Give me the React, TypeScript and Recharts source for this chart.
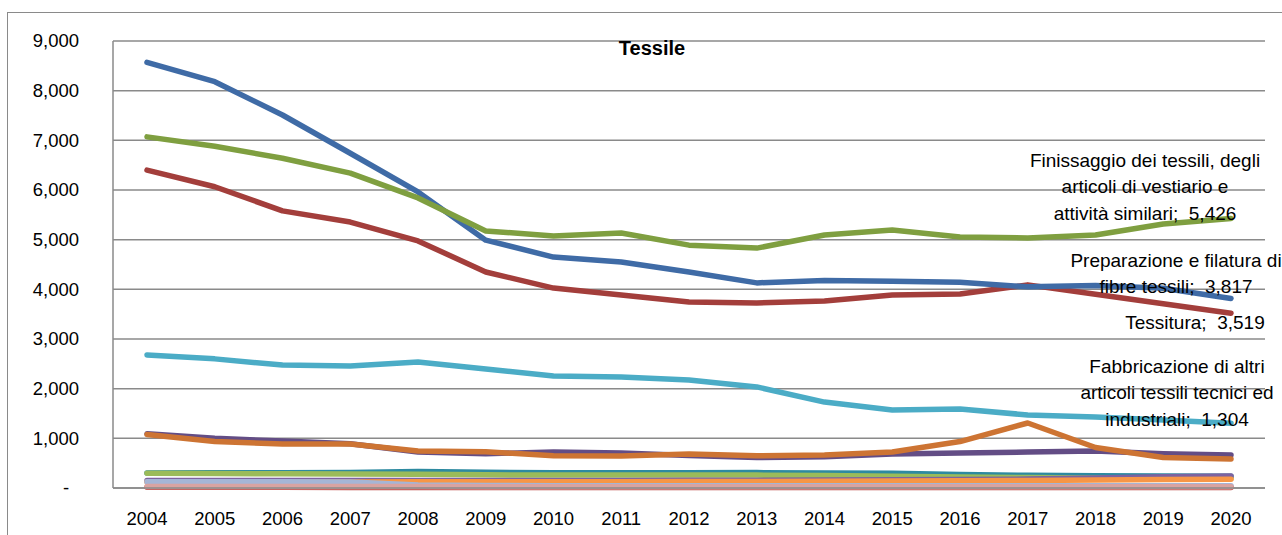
import React from "react";
import { LineChart, Line, XAxis, YAxis, CartesianGrid } from "recharts";

const YEARS = [
  "2004", "2005", "2006", "2007", "2008", "2009", "2010", "2011", "2012",
  "2013", "2014", "2015", "2016", "2017", "2018", "2019", "2020",
];

const Y_TICKS = [0, 1000, 2000, 3000, 4000, 5000, 6000, 7000, 8000, 9000];

// main series (labelled at the last year)
const PREPARAZIONE = [8570, 8180, 7510, 6740, 5960, 4990, 4650, 4550, 4350, 4130, 4180, 4165, 4145, 4050, 4075, 4020, 3817];
const TESSITURA = [6400, 6065, 5580, 5355, 4975, 4350, 4025, 3885, 3745, 3725, 3765, 3885, 3905, 4090, 3900, 3710, 3519];
const FINISSAGGIO = [7070, 6880, 6640, 6340, 5840, 5175, 5075, 5135, 4890, 4830, 5095, 5195, 5055, 5035, 5095, 5315, 5426];
const TECNICI = [2680, 2600, 2475, 2455, 2535, 2395, 2255, 2235, 2175, 2035, 1730, 1570, 1590, 1470, 1430, 1370, 1304];
const CONFEZIONAMENTO = [1090, 1000, 945, 890, 725, 690, 725, 705, 655, 615, 630, 685, 705, 725, 745, 690, 665];
const MAGLIA = [1075, 935, 885, 885, 745, 730, 650, 645, 685, 650, 665, 725, 935, 1309, 815, 615, 584];

// smaller activities near the bottom
const TAPPETI = [295, 290, 285, 280, 275, 265, 260, 262, 262, 260, 250, 235, 220, 210, 200, 195, 190];
const CORDE = [300, 305, 305, 310, 330, 315, 305, 308, 308, 310, 300, 295, 270, 255, 245, 240, 235];
const NON_TESSUTI = [150, 150, 150, 150, 150, 150, 150, 150, 155, 155, 160, 165, 170, 180, 200, 225, 240];
const ALTRI_NCA = [120, 120, 120, 120, 125, 125, 125, 128, 130, 130, 135, 140, 145, 150, 160, 170, 175];
const NASTRI = [125, 125, 125, 120, 60, 50, 45, 45, 45, 45, 45, 45, 45, 45, 45, 45, 45];
const FELTRI = [15, 15, 15, 12, 8, 8, 8, 8, 8, 8, 8, 8, 8, 8, 8, 8, 8];
const RICAMI = [30, 30, 30, 28, 28, 27, 27, 27, 26, 26, 26, 25, 25, 25, 25, 25, 25];

interface SeriesDef {
  key: string;
  values: number[];
  color: string;
  label?: string[];
}

// drawing order: first is at the bottom
const SERIES: SeriesDef[] = [
  { key: "corde", values: CORDE, color: "#2D8AA0" },
  { key: "tappeti", values: TAPPETI, color: "#9BBB59" },
  { key: "nonTessuti", values: NON_TESSUTI, color: "#7D62A0" },
  { key: "altriNca", values: ALTRI_NCA, color: "#F79646" },
  { key: "nastri", values: NASTRI, color: "#A5B5D6" },
  { key: "feltri", values: FELTRI, color: "#C0504D" },
  { key: "ricami", values: RICAMI, color: "#D9A3A1" },
  {
    key: "tecnici",
    values: TECNICI,
    color: "#4BACC6",
    label: ["Fabbricazione di altri", "articoli tessili tecnici ed", "industriali"],
  },
  { key: "confezionamento", values: CONFEZIONAMENTO, color: "#634D85" },
  { key: "maglia", values: MAGLIA, color: "#CD7433" },
  { key: "tessitura", values: TESSITURA, color: "#A33E3B", label: ["Tessitura"] },
  {
    key: "preparazione",
    values: PREPARAZIONE,
    color: "#3F6BA6",
    label: ["Preparazione e filatura di", "fibre tessili"],
  },
  {
    key: "finissaggio",
    values: FINISSAGGIO,
    color: "#7F9F40",
    label: ["Finissaggio dei tessili, degli", "articoli di vestiario e", "attività similari"],
  },
];

// offsets of the end labels from the last point
const LABEL_POS: Record<string, { dx: number; dy: number }> = {
  finissaggio: { dx: -86, dy: -58.5 },
  preparazione: { dx: -55, dy: -38.5 },
  tessitura: { dx: -36, dy: 9 },
  tecnici: { dx: -54, dy: -57 },
};

const FONT = "'Liberation Sans', Arial, sans-serif";
const TICK_SIZE = 18.5;
const LABEL_SIZE = 19;
const LINE_H = 26.5;
const GRID = "#8a8a8a";

const fmt = (v: number) => v.toLocaleString("en-US");

const rows = YEARS.map((year, i) => {
  const row: Record<string, string | number> = { year };
  SERIES.forEach((s) => {
    row[s.key] = s.values[i];
  });
  return row;
});

function YTick(props: any) {
  const { x, y, payload } = props;
  const zero = payload.value === 0;
  return (
    <text
      x={zero ? x - 13 : x}
      y={y}
      dy="0.35em"
      textAnchor={zero ? "middle" : "end"}
      fontSize={TICK_SIZE}
      fontFamily={FONT}
      fill="#000"
    >
      {zero ? "-" : fmt(payload.value)}
    </text>
  );
}

function endLabel(s: SeriesDef) {
  return (props: any) => {
    const { x, y, index } = props;
    if (!s.label || index !== YEARS.length - 1) return null;
    const value = s.values[index];
    const pos = LABEL_POS[s.key];
    const lines = [
      ...s.label.slice(0, -1),
      `${s.label[s.label.length - 1]};\u00A0 ${fmt(value)}`,
    ];
    return (
      <text
        key={`lbl-${s.key}`}
        textAnchor="middle"
        fontSize={LABEL_SIZE}
        fontFamily={FONT}
        fill="#000"
      >
        {lines.map((t, k) => (
          <tspan key={k} x={x + pos.dx} y={y + pos.dy + k * LINE_H} dy="0.35em">
            {t}
          </tspan>
        ))}
      </text>
    );
  };
}

export default function App() {
  return (
    <div style={{ position: "relative", width: 1282, height: 535, overflow: "hidden", background: "#fff" }}>
      <style>{"body{margin:0}"}</style>
      <div
        style={{
          position: "absolute",
          top: 12,
          left: 6.5,
          width: 1300,
          height: 540,
          borderTop: `1.5px solid ${GRID}`,
          borderLeft: `1.5px solid ${GRID}`,
        }}
      />
      <LineChart
        width={1282}
        height={535}
        data={rows}
        margin={{ top: 41, right: 17, bottom: 17, left: 0 }}
        style={{ position: "absolute", top: 0, left: 0 }}
      >
        <CartesianGrid vertical={false} stroke={GRID} strokeWidth={1.5} />
        <XAxis
          dataKey="year"
          padding={{ left: 34, right: 34 }}
          axisLine={{ stroke: GRID, strokeWidth: 1.5 }}
          tickLine={false}
          tickSize={0}
          tickMargin={24}
          interval={0}
          tick={{ fontSize: TICK_SIZE, fontFamily: FONT, fill: "#000" }}
        />
        <YAxis
          width={113}
          domain={[0, 9000]}
          ticks={Y_TICKS}
          interval={0}
          axisLine={{ stroke: GRID, strokeWidth: 1.5 }}
          tickLine={false}
          tickSize={0}
          tickMargin={34}
          tick={<YTick />}
        />
        {SERIES.map((s) => (
          <Line
            key={s.key}
            dataKey={s.key}
            type="linear"
            stroke={s.color}
            strokeWidth={5.5}
            strokeLinecap="round"
            strokeLinejoin="round"
            dot={false}
            activeDot={false}
            label={s.label ? endLabel(s) : false}
            isAnimationActive={false}
          />
        ))}
      </LineChart>
      <div
        style={{
          position: "absolute",
          left: 652,
          top: 37,
          transform: "translateX(-50%)",
          fontFamily: FONT,
          fontWeight: "bold",
          fontSize: 20,
          lineHeight: "22px",
          color: "#000",
        }}
      >
        Tessile
      </div>
    </div>
  );
}
